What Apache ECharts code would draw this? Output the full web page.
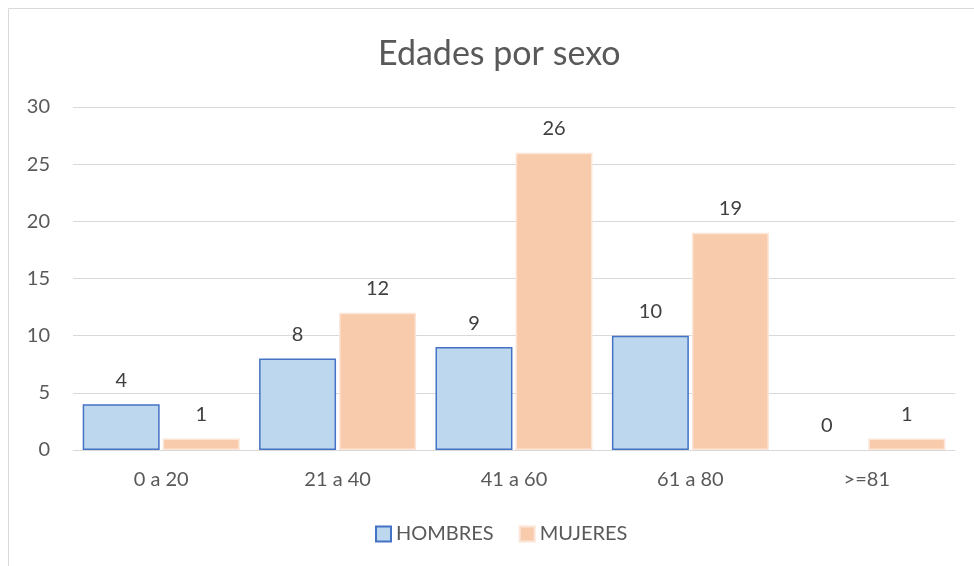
<!DOCTYPE html>
<html>
<head>
<meta charset="utf-8">
<script src="https://cdn.jsdelivr.net/npm/echarts@6/dist/echarts.min.js"></script>
<style>
  html, body { margin: 0; padding: 0; background: #fff; }
  #chart { width: 974px; height: 566px; }
</style>
</head>
<body>
<div id="chart"></div>
<script>
const categories = ['0 a 20', '21 a 40', '41 a 60', '61 a 80', '>=81']
const hombres = [4, 8, 9, 10, 0]
const mujeres = [1, 12, 26, 19, 1]
const yTicks = [0, 30, 5]

const font = 'Lato'
const myChart = echarts.init(document.getElementById('chart'))

// zero-height bars show no outline
const noZeroBorder = (arr) => arr.map((v) => (v === 0 ? { value: v, itemStyle: { borderWidth: 0 } } : v))

const labelStyle = {
  show: true,
  position: 'top',
  distance: 14,
  color: '#404040',
  fontFamily: font,
  fontSize: 20
}

const option = {
  animation: false,
  backgroundColor: '#fff',
  title: {
    text: 'Edades por sexo',
    left: 373,
    top: 32,
    textStyle: {
      color: '#595959',
      fontFamily: font,
      fontSize: 34,
      fontWeight: 400
    }
  },
  graphic: [
    {
      type: 'rect',
      shape: { x: 8.5, y: 8.5, width: 1000, height: 600 },
      style: { fill: 'none', stroke: '#D9D9D9', lineWidth: 1 },
      silent: true
    }
  ],
  legend: {
    bottom: 17,
    left: 370,
    itemGap: 25,
    itemWidth: 15,
    itemHeight: 15,
    icon: 'rect',
    textStyle: {
      color: '#595959',
      fontFamily: font,
      fontSize: 20
    },
    data: ['HOMBRES', 'MUJERES']
  },
  grid: {
    left: 73,
    right: 19,
    top: 107,
    bottom: 116
  },
  xAxis: {
    type: 'category',
    data: categories,
    axisLine: { show: true, lineStyle: { color: '#D9D9D9' } },
    axisTick: { show: false },
    axisLabel: {
      color: '#595959',
      fontFamily: font,
      fontSize: 20,
      margin: 20
    }
  },
  yAxis: {
    type: 'value',
    min: yTicks[0],
    max: yTicks[1],
    interval: yTicks[2],
    axisLine: { show: false },
    axisTick: { show: false },
    axisLabel: {
      color: '#595959',
      fontFamily: font,
      fontSize: 20,
      margin: 23
    },
    splitLine: { show: true, lineStyle: { color: '#D9D9D9' } }
  },
  series: [
    {
      name: 'HOMBRES',
      type: 'bar',
      data: noZeroBorder(hombres),
      barGap: '4%',
      barCategoryGap: '11%',
      itemStyle: {
        color: '#BDD7EE',
        borderColor: '#4472C4',
        borderWidth: 1.5
      },
      label: labelStyle
    },
    {
      name: 'MUJERES',
      type: 'bar',
      data: noZeroBorder(mujeres),
      itemStyle: {
        color: '#F8CBAD',
        borderColor: '#FBE5D6',
        borderWidth: 1.5
      },
      label: labelStyle
    }
  ]
}
myChart.setOption(option)
</script>
</body>
</html>
